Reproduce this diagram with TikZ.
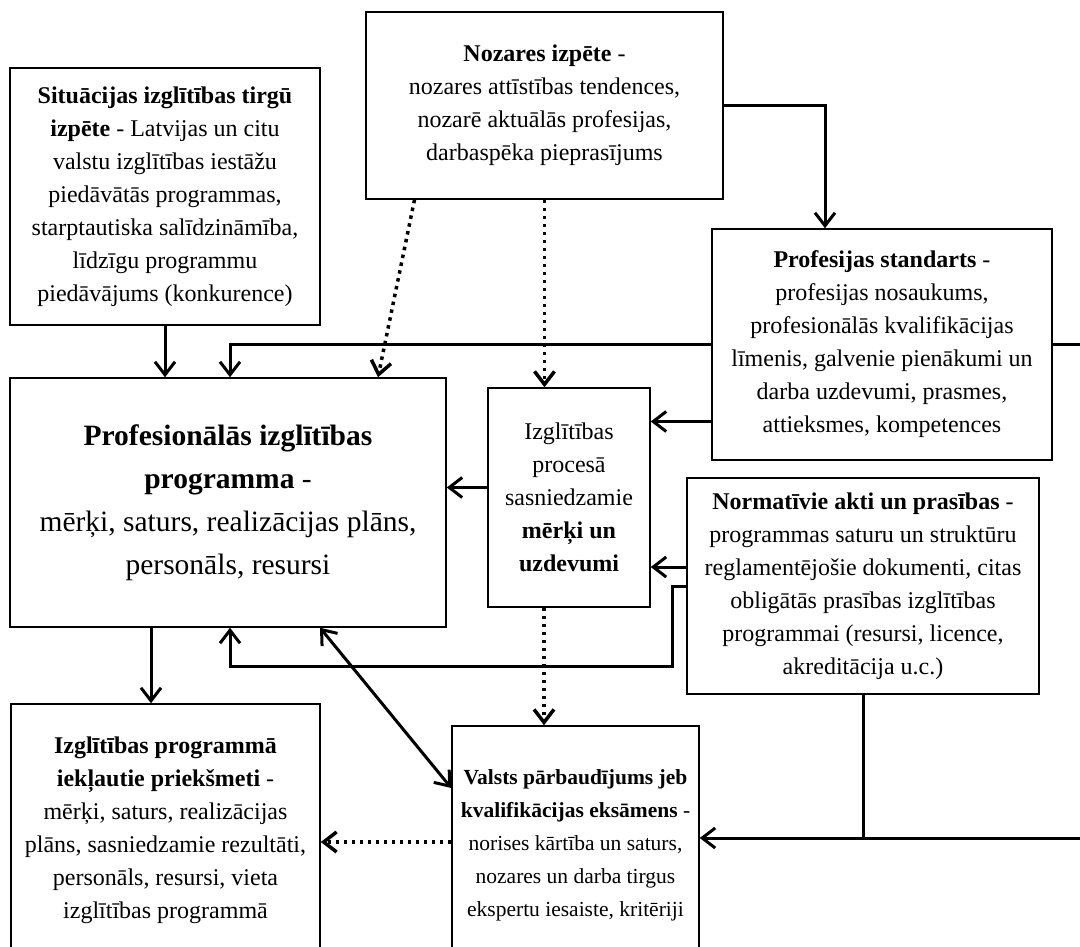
\documentclass[tikz,border=0pt]{standalone}
\usepackage{fontspec}
\setmainfont{Liberation Serif}
\usetikzlibrary{arrows.meta}

\newcommand\boxfont{\fontsize{24}{33}\selectfont}
\newcommand\smallbox{\fontsize{21.5}{33}\selectfont}
\newcommand\bigfont{\fontsize{29.5}{43}\selectfont}

\begin{document}
\begin{tikzpicture}[x=1pt, y=-1pt,
    box/.style={draw, line width=1.5pt, fill=white, align=center, inner sep=0pt, font=\boxfont},
    arr/.style={line width=3pt, -{Straight Barb[length=13pt, width=20pt]}},
    dblarr/.style={line width=3pt, {Straight Barb[length=13pt, width=20pt]}-{Straight Barb[length=13pt, width=20pt]}},
    dotarr/.style={arr, line width=3.5pt, dash pattern=on 3.5pt off 4.5pt},
    link/.style={line width=3pt}]
    \useasboundingbox[fill=white] (0,0) rectangle (1080,947);

    \node[box, minimum width=310, minimum height=257] (sit) at (165,196.5)
        {\textbf{Situācijas izglītības tirgū}\\ \textbf{izpēte} - Latvijas un citu\\ valstu izglītības iestāžu\\ piedāvātās programmas,\\ starptautiska salīdzināmība,\\ līdzīgu programmu\\ piedāvājums (konkurence)};
    \node[box, minimum width=357, minimum height=187] (noz) at (544.5,105.5)
        {\textbf{Nozares izpēte} -\\ nozares attīstības tendences,\\ nozarē aktuālās profesijas,\\ darbaspēka pieprasījums};
    \node[box, minimum width=340, minimum height=231] (std) at (882,344.5)
        {\textbf{Profesijas standarts} -\\ profesijas nosaukums,\\ profesionālās kvalifikācijas\\ līmenis, galvenie pienākumi un\\ darba uzdevumi, prasmes,\\ attieksmes, kompetences};
    \node[box, font=\bigfont, minimum width=436, minimum height=249] (prog) at (228,502.5)
        {\textbf{Profesionālās izglītības}\\ \textbf{programma} -\\ mērķi, saturs, realizācijas plāns,\\ personāls, resursi};
    \node[box, minimum width=162, minimum height=219] (goal) at (569,497.5)
        {Izglītības\\ procesā\\ sasniedzamie\\ \textbf{mērķi un}\\ \textbf{uzdevumi}};
    \node[box, minimum width=352, minimum height=216] (norm) at (863,586)
        {\textbf{Normatīvie akti un prasības} -\\ programmas saturu un struktūru\\ reglamentējošie dokumenti, citas\\ obligātās prasības izglītības\\ programmai (resursi, licence,\\ akreditācija u.c.)};
    \node[box, font=\smallbox, minimum width=247, minimum height=238] (exam) at (575.5,845)
        {\textbf{Valsts pārbaudījums jeb}\\ \textbf{kvalifikācijas eksāmens} -\\ norises kārtība un saturs,\\ nozares un darba tirgus\\ ekspertu iesaiste, kritēriji};
    \node[box, minimum width=309, minimum height=252] (subj) at (165.5,830)
        {\textbf{Izglītības programmā}\\ \textbf{iekļautie priekšmeti} -\\ mērķi, saturs, realizācijas\\ plāns, sasniedzamie rezultāti,\\ personāls, resursi, vieta\\ izglītības programmā};

    % bends and line ends
    \coordinate (c825) at (825,0);
    \coordinate (c230) at (230,0);
    \coordinate (jR) at (1095,344.5);
    \coordinate (jRb) at (1095,838);
    \coordinate (n1) at (672,666);
    \coordinate (dm) at ([xshift=-25]goal.south);
    \coordinate (s2) at ([yshift=-77]std.west);
    \coordinate (g1) at ([yshift=10]goal.west);
    \coordinate (ng) at ([yshift=19]norm.west);
    \coordinate (p3) at ([xshift=-77]prog.south);
    \coordinate (e1) at ([yshift=3]exam.west);

    \draw[arr] (sit.south) -- (sit.south |- prog.north);
    \draw[arr] (std.west) -| (prog.north -| c230);
    \draw[arr] (noz.east) -| (std.north -| c825);
    \draw[dotarr] ([xshift=-130]noz.south) -- ([xshift=150]prog.north);
    \draw[dotarr] (noz.south) -- (goal.north -| noz.south);
    \draw[arr] (s2) -- (s2 -| goal.east);
    \draw[arr] (g1) -- (g1 -| prog.east);
    \draw[arr] (ng) -- (ng -| goal.east);
    \draw[arr] (norm.west) -| (n1) -| (prog.south -| c230);
    \draw[arr] (p3) -- (p3 |- subj.north);
    \draw[dblarr] ([xshift=92]prog.south) -- ([yshift=57]exam.west);
    \draw[dotarr] (dm) -- (dm |- exam.north);
    \draw[dotarr] (e1) -- (e1 -| subj.east);
    \draw[link] (std.east) -- (jR) -- (jRb);
    \draw[link] (norm.south) -- (norm.south |- jRb);
    \draw[arr] (jRb) -- (jRb -| exam.east);
\end{tikzpicture}
\end{document}
